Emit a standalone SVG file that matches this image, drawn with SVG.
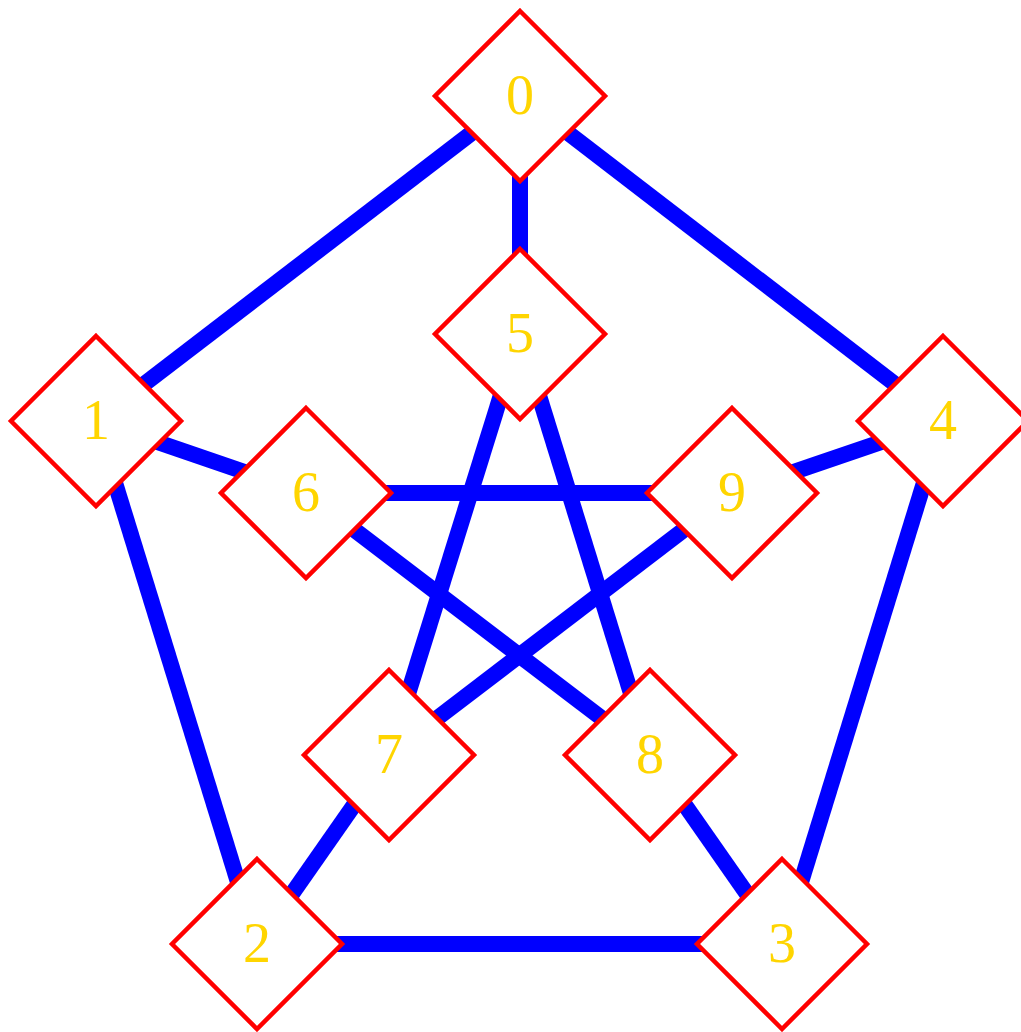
<svg xmlns="http://www.w3.org/2000/svg" width="1021" height="1032" viewBox="0 0 1021 1032">
<style>
.e{stroke:#0000FF;stroke-width:16;fill:none}
.n use{fill:#FFFFFF;stroke:#FF0000;stroke-width:4.5}
.n text{font-family:"Liberation Serif","DejaVu Serif",serif;font-size:56px;fill:#FFD500;text-anchor:middle}
</style>
<defs><path id="d" d="M0,-85L85,0L0,85L-85,0Z"/></defs>
<rect width="1021" height="1032" fill="#FFFFFF"/>
<g id="edges">
<line class="e" x1="520" y1="96" x2="96" y2="421"/>
<line class="e" x1="520" y1="96" x2="943" y2="421"/>
<line class="e" x1="520" y1="96" x2="520" y2="334"/>
<line class="e" x1="96" y1="421" x2="257" y2="944"/>
<line class="e" x1="96" y1="421" x2="306" y2="493"/>
<line class="e" x1="943" y1="421" x2="782" y2="944"/>
<line class="e" x1="943" y1="421" x2="732" y2="493"/>
<line class="e" x1="257" y1="944" x2="782" y2="944"/>
<line class="e" x1="257" y1="944" x2="389" y2="755"/>
<line class="e" x1="782" y1="944" x2="650" y2="755"/>
<line class="e" x1="520" y1="334" x2="389" y2="755"/>
<line class="e" x1="520" y1="334" x2="650" y2="755"/>
<line class="e" x1="306" y1="493" x2="732" y2="493"/>
<line class="e" x1="306" y1="493" x2="650" y2="755"/>
<line class="e" x1="732" y1="493" x2="389" y2="755"/>
</g>
<g id="n0" class="n" transform="translate(520,96)"><use href="#d"/><text y="18">0</text></g>
<g id="n1" class="n" transform="translate(96,421)"><use href="#d"/><text y="18">1</text></g>
<g id="n2" class="n" transform="translate(257,944)"><use href="#d"/><text y="18">2</text></g>
<g id="n3" class="n" transform="translate(782,944)"><use href="#d"/><text y="18">3</text></g>
<g id="n4" class="n" transform="translate(943,421)"><use href="#d"/><text y="18">4</text></g>
<g id="n5" class="n" transform="translate(520,334)"><use href="#d"/><text y="18">5</text></g>
<g id="n6" class="n" transform="translate(306,493)"><use href="#d"/><text y="18">6</text></g>
<g id="n7" class="n" transform="translate(389,755)"><use href="#d"/><text y="18">7</text></g>
<g id="n8" class="n" transform="translate(650,755)"><use href="#d"/><text y="18">8</text></g>
<g id="n9" class="n" transform="translate(732,493)"><use href="#d"/><text y="18">9</text></g>
</svg>
